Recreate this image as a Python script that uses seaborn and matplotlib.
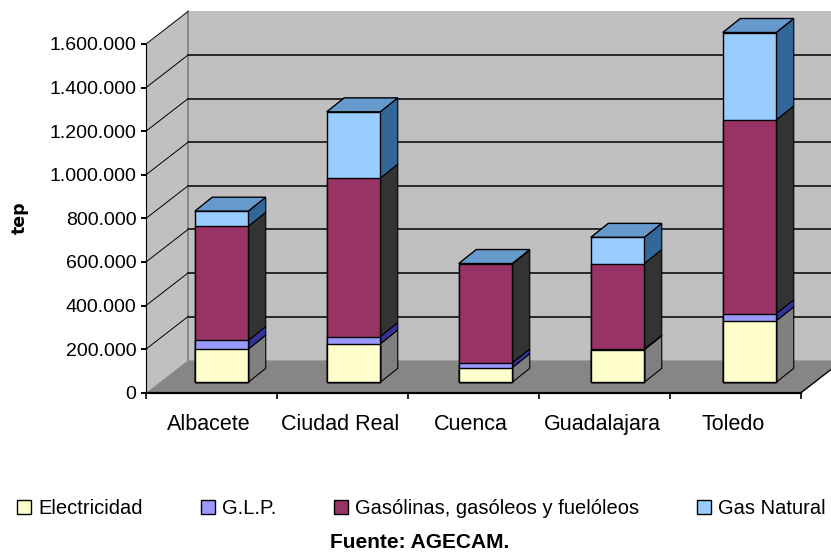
import matplotlib
matplotlib.use("Agg")
import matplotlib.pyplot as plt
from matplotlib.patches import Patch, Polygon
import numpy as np
import pandas as pd
import seaborn as sns

provinces = ["Albacete", "Ciudad Real", "Cuenca", "Guadalajara", "Toledo"]
electricidad = [152000, 176000, 67000, 149000, 282000]
glp = [40000, 34000, 22000, 3000, 33000]
gasolinas = [524000, 727000, 454000, 393000, 889000]
gas_natural = [69000, 304000, 2000, 120000, 401000]
series_names = ["Electricidad", "G.L.P.", "Gasólinas, gasóleos y fuelóleos", "Gas Natural"]
series_values = [electricidad, glp, gasolinas, gas_natural]
front_colors = ["#FFFFCC", "#9999FF", "#993366", "#99CCFF"]
side_colors = ["#808080", "#333399", "#333333", "#336699"]
top_color = "#6699CC"
y_ticks = [0, 200000, 400000, 600000, 800000, 1000000, 1200000, 1400000, 1600000]

W, H = 831, 553
X0, X1, Y0, Y1 = 146, 801, 392.7, 44
sns.set_theme(style="white")
plt.rcParams["font.family"] = ["Liberation Sans", "DejaVu Sans"]

fig = plt.figure(figsize=(W / 100, H / 100), dpi=100, facecolor="white")
ax = fig.add_axes([X0 / W, 1 - Y0 / H, (X1 - X0) / W, (Y0 - Y1) / H])
ax.patch.set_visible(False)

ux = (X1 - X0) / 5            # px per category
uy = (Y0 - Y1) / 1600000      # px per value unit
wall_dx, wall_dy = 42 / ux, 32.5 / uy
ymax = 1600000

def poly(pts, **kw):
    kw.setdefault("clip_on", False)
    ax.add_patch(Polygon(pts, closed=True, **kw))

# walls and floor
poly([(wall_dx, wall_dy), (6, wall_dy), (6, ymax + wall_dy), (wall_dx, ymax + wall_dy)],
     fc="#C0C0C0", ec="none", zorder=1)
poly([(0, 0), (wall_dx, wall_dy), (wall_dx, ymax + wall_dy), (0, ymax)],
     fc="#C0C0C0", ec="none", zorder=1)
poly([(0, 0), (wall_dx, wall_dy), (6, wall_dy), (5 + wall_dx, wall_dy), (5, 0)],
     fc="#868686", ec="none", zorder=1)
ax.plot([wall_dx, wall_dx], [wall_dy, ymax + wall_dy], color="#868686", lw=1.4, clip_on=False, zorder=2)
ax.plot([5, 5 + wall_dx], [0, wall_dy], color="black", lw=1.0, clip_on=False, zorder=2)
for t in y_ticks[1:]:
    ax.plot([0, wall_dx], [t, t + wall_dy], color="black", lw=0.7, clip_on=False, zorder=2)
    if t < ymax:
        ax.plot([wall_dx, 6], [t + wall_dy, t + wall_dy], color="black", lw=1.1, clip_on=False, zorder=2)

# bars
bar_w = 53.5 / ux
lift_x, lift_y = 10 / ux, 10.4 / uy
depth_x, depth_y = 17.5 / ux, 14 / uy
centers = np.arange(len(provinces)) * (132 / 131) + 0.5 + lift_x
cum = np.cumsum(np.array(series_values, dtype=float), axis=0)

for k in range(len(series_names) - 1, -1, -1):
    df = pd.DataFrame({"x": centers, "value": cum[k]})
    sns.barplot(data=df, x="x", y="value", native_scale=True, color=front_colors[k], saturation=1,
                width=bar_w / (132 / 131), bottom=lift_y, edgecolor="black", linewidth=1.0,
                errorbar=None, zorder=5, clip_on=False, ax=ax)

for i, c in enumerate(centers):
    r = c + bar_w / 2
    lo = 0.0
    for k in range(len(series_names)):
        hi = cum[k][i]
        poly([(r, lo + lift_y), (r + depth_x, lo + lift_y + depth_y),
              (r + depth_x, hi + lift_y + depth_y), (r, hi + lift_y)],
             fc=side_colors[k], ec="black", lw=0.8, zorder=4)
        lo = hi
    top = cum[-1][i] + lift_y
    l = c - bar_w / 2
    poly([(l, top), (l + depth_x, top + depth_y), (r + depth_x, top + depth_y), (r, top)],
         fc=top_color, ec="black", lw=1.0, zorder=4)

# axes
ax.set_xlim(0, 5)
ax.set_ylim(0, ymax)
ax.set_xlabel("")
ax.set_ylabel("")
for s in ["top", "right"]:
    ax.spines[s].set_visible(False)
ax.spines["left"].set_linewidth(0.8)
ax.spines["left"].set_color("black")
ax.spines["left"].set_zorder(3)
ax.spines["bottom"].set_linewidth(1.6)
ax.spines["bottom"].set_color("black")
ax.spines["bottom"].set_zorder(3)
ax.set_yticks(y_ticks)
ax.set_yticklabels([f"{t:,}".replace(",", ".") for t in y_ticks], fontsize=14, color="black")
ax.set_xticks(np.arange(6))
ax.set_xticklabels([""] * 6)
ax.set_xticks(np.arange(5) + 0.48, minor=True)
ax.set_xticklabels(provinces, minor=True, fontsize=15.5, color="black")
ax.tick_params(axis="y", which="major", left=True, length=3.5, width=1.4, color="black", pad=3.5)
ax.tick_params(axis="x", which="major", bottom=True, length=4, width=1.2, color="black")
ax.tick_params(axis="x", which="minor", bottom=False, length=0, pad=15)

fig.text(20 / W, 1 - 218 / H, "tep", rotation=90, ha="center", va="center",
         fontsize=12.5, fontweight="bold", color="black", family="DejaVu Sans")
fig.text(420 / W, 1 - 543 / H, "Fuente: AGECAM.", ha="center", va="center",
         fontsize=15, fontweight="bold", color="black")

handles = [Patch(fc=c, ec="black", lw=1.0) for c in front_colors]
fig.legend(handles, series_names, ncol=4, frameon=False, fontsize=14.5, loc="center",
           bbox_to_anchor=(421.5 / W, 1 - 508.5 / H), borderpad=0, borderaxespad=0,
           handlelength=0.7, handleheight=0.7, handletextpad=0.35, columnspacing=2.88,
           labelcolor="black")

fig.savefig("out.png", dpi=100, facecolor="white")
